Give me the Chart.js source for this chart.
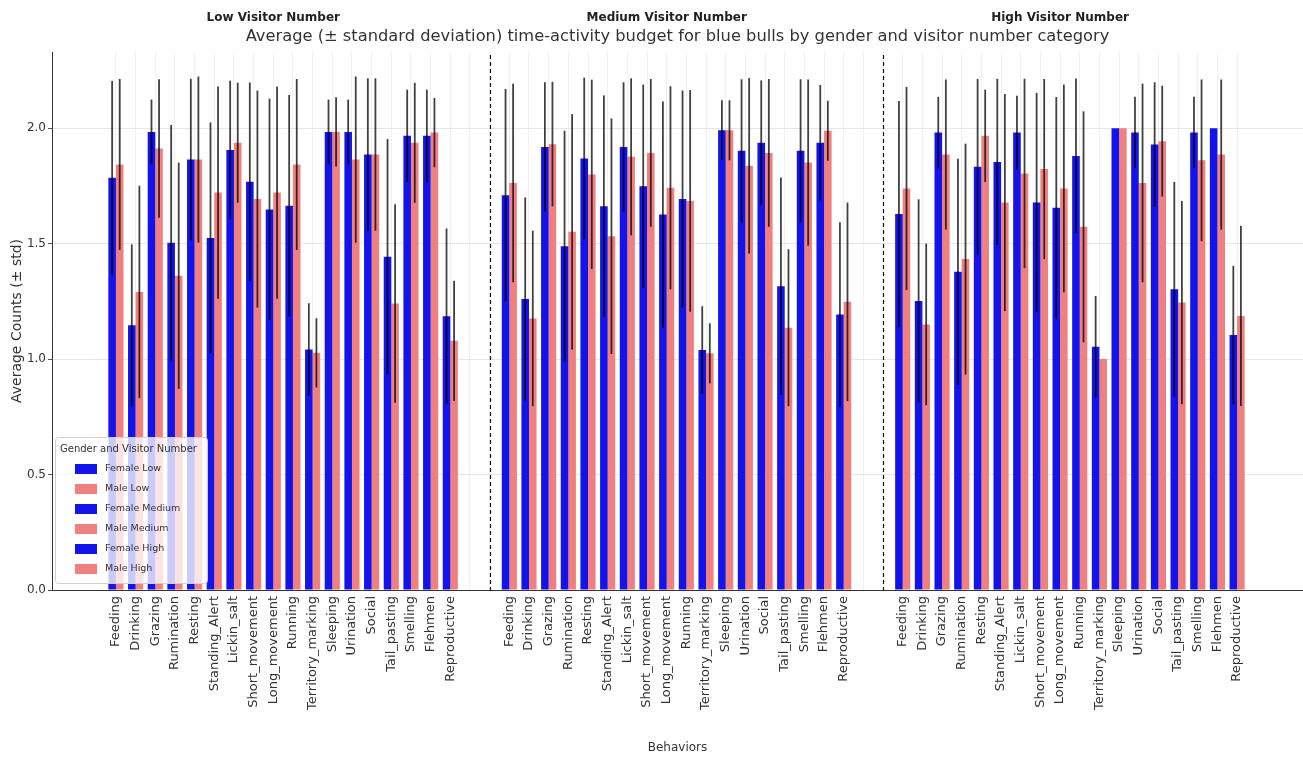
<!DOCTYPE html>
<html>
<head>
<meta charset="utf-8">
<title>Time-activity budget for blue bulls</title>
<script src="https://cdn.jsdelivr.net/npm/chart.js@4.4.1/dist/chart.umd.min.js"></script>
<style>
  html, body { margin: 0; padding: 0; background: #fff; }
  #wrap { width: 1303px; height: 759px; position: relative; }
</style>
</head>
<body>
<div id="wrap"><canvas id="chart"></canvas></div>
<script>
const behaviors = ['Feeding', 'Drinking', 'Grazing', 'Rumination', 'Resting', 'Standing_Alert',
  'Lickin_salt', 'Short_movement', 'Long_movement', 'Running', 'Territory_marking', 'Sleeping',
  'Urination', 'Social', 'Tail_pasting', 'Smelling', 'Flehmen', 'Reproductive'];
const groupTitles = ['Low Visitor Number', 'Medium Visitor Number', 'High Visitor Number'];
const seriesLabels = ['Female Low', 'Male Low', 'Female Medium', 'Male Medium', 'Female High', 'Male High'];
const chartTitle = 'Average (\u00b1 standard deviation) time-activity budget for blue bulls by gender and visitor number category';

// means and standard deviations
const femaleLow    = [1.785, 1.147, 1.984, 1.504, 1.864, 1.525, 1.906, 1.768, 1.648, 1.664, 1.042, 1.984, 1.984, 1.886, 1.443, 1.967, 1.967, 1.186];
const femaleLowSd  = [0.42, 0.35, 0.14, 0.51, 0.35, 0.50, 0.30, 0.43, 0.48, 0.48, 0.20, 0.14, 0.14, 0.33, 0.51, 0.20, 0.20, 0.38];
const maleLow      = [1.843, 1.291, 1.912, 1.361, 1.864, 1.721, 1.937, 1.693, 1.721, 1.843, 1.027, 1.984, 1.864, 1.886, 1.241, 1.937, 1.981, 1.079];
const maleLowSd    = [0.37, 0.46, 0.30, 0.49, 0.36, 0.46, 0.26, 0.47, 0.46, 0.37, 0.15, 0.15, 0.36, 0.33, 0.43, 0.26, 0.15, 0.26];
const femaleMed    = [1.710, 1.260, 1.919, 1.489, 1.869, 1.662, 1.919, 1.749, 1.626, 1.693, 1.039, 1.991, 1.902, 1.937, 1.316, 1.902, 1.937, 1.193];
const femaleMedSd  = [0.46, 0.44, 0.28, 0.50, 0.35, 0.48, 0.28, 0.44, 0.49, 0.47, 0.19, 0.13, 0.31, 0.27, 0.47, 0.31, 0.25, 0.40];
const maleMed      = [1.763, 1.176, 1.931, 1.551, 1.800, 1.532, 1.876, 1.893, 1.742, 1.685, 1.025, 1.991, 1.837, 1.893, 1.136, 1.851, 1.989, 1.248];
const maleMedSd    = [0.43, 0.38, 0.27, 0.51, 0.41, 0.51, 0.34, 0.32, 0.44, 0.48, 0.13, 0.13, 0.38, 0.32, 0.34, 0.36, 0.13, 0.43];
const femaleHigh   = [1.628, 1.252, 1.981, 1.378, 1.833, 1.854, 1.981, 1.678, 1.655, 1.880, 1.053, 2.000, 1.981, 1.929, 1.303, 1.981, 2.000, 1.104];
const femaleHighSd = [0.49, 0.44, 0.155, 0.49, 0.38, 0.36, 0.16, 0.475, 0.48, 0.335, 0.22, 0, 0.155, 0.27, 0.465, 0.155, 0, 0.30];
const maleHigh     = [1.739, 1.150, 1.886, 1.433, 1.967, 1.678, 1.804, 1.823, 1.739, 1.573, 1.000, 2.000, 1.763, 1.944, 1.245, 1.861, 1.886, 1.187];
const maleHighSd   = [0.44, 0.35, 0.325, 0.50, 0.20, 0.47, 0.41, 0.39, 0.45, 0.50, 0, 0, 0.43, 0.24, 0.44, 0.35, 0.325, 0.39];

const yTicks = [0, 0.5, 1.0, 1.5, 2.0];

const FEMALE = '#1414EA';
const MALE = '#F08080';

// each visitor group takes the behaviours plus two empty slots
const slotsPerGroup = behaviors.length + 2;
const slotOf = (g, i) => g * slotsPerGroup + i;
const lastSlot = slotOf(2, behaviors.length - 1);
const dividers = [slotOf(1, -1), slotOf(2, -1)];

function series(label, g, values, sds, female) {
  return {
    label,
    data: values.map((v, i) => ({ x: slotOf(g, i), y: v })),
    errors: sds,
    backgroundColor: female ? FEMALE : MALE,
    stack: female ? 'F' : 'M',
    categoryPercentage: 0.77,
    barPercentage: 1.0
  };
}

const datasets = [
  series(seriesLabels[0], 0, femaleLow, femaleLowSd, true),
  series(seriesLabels[1], 0, maleLow, maleLowSd, false),
  series(seriesLabels[2], 1, femaleMed, femaleMedSd, true),
  series(seriesLabels[3], 1, maleMed, maleMedSd, false),
  series(seriesLabels[4], 2, femaleHigh, femaleHighSd, true),
  series(seriesLabels[5], 2, maleHigh, maleHighSd, false)
];

const errorBars = {
  id: 'errorBars',
  afterDatasetsDraw(chart) {
    const { ctx, chartArea, scales: { y } } = chart;
    ctx.save();
    ctx.beginPath();
    ctx.rect(chartArea.left, chartArea.top, chartArea.width, chartArea.height);
    ctx.clip();
    ctx.strokeStyle = 'rgba(0,0,0,0.75)';
    ctx.lineWidth = 1.8;
    chart.data.datasets.forEach((ds, d) => {
      chart.getDatasetMeta(d).data.forEach((bar, i) => {
        const sd = ds.errors[i];
        if (!sd) return;
        const m = ds.data[i].y;
        ctx.beginPath();
        ctx.moveTo(bar.x, y.getPixelForValue(m - sd));
        ctx.lineTo(bar.x, y.getPixelForValue(m + sd));
        ctx.stroke();
      });
    });
    ctx.restore();
  }
};

const dividerLines = {
  id: 'dividerLines',
  beforeDatasetsDraw(chart) {
    const { ctx, chartArea, scales: { x } } = chart;
    ctx.save();
    ctx.strokeStyle = '#111';
    ctx.lineWidth = 1.2;
    ctx.setLineDash([4, 3]);
    dividers.forEach(pos => {
      const px = Math.round(x.getPixelForValue(pos)) + 0.5;
      ctx.beginPath();
      ctx.moveTo(px, chartArea.top + 3);
      ctx.lineTo(px, chartArea.bottom);
      ctx.stroke();
    });
    ctx.restore();
  }
};

// main title (centred on the plot area) and the three group headers
const headers = {
  id: 'headers',
  afterDraw(chart) {
    const { ctx, chartArea, scales: { x } } = chart;
    ctx.save();
    ctx.textAlign = 'center';
    ctx.textBaseline = 'middle';
    ctx.font = 'bold 12px "DejaVu Sans"';
    ctx.fillStyle = '#222';
    groupTitles.forEach((t, g) => {
      ctx.fillText(t, x.getPixelForValue(slotOf(g, behaviors.length / 2 - 1)), 18);
    });
    ctx.font = '16.3px "DejaVu Sans"';
    ctx.fillStyle = '#333';
    ctx.fillText(chartTitle, (chartArea.left + chartArea.right) / 2, 37);
    ctx.restore();
  }
};

const boxLegend = {
  id: 'boxLegend',
  afterDraw(chart) {
    const { ctx, chartArea } = chart;
    const x0 = chartArea.left + 3, y0 = chartArea.bottom - 153, w = 152, h = 146;
    ctx.save();
    ctx.fillStyle = 'rgba(255,255,255,0.78)';
    ctx.strokeStyle = '#d0d0d0';
    ctx.lineWidth = 1;
    ctx.beginPath();
    ctx.roundRect(x0 + 0.5, y0 + 0.5, w, h, 3);
    ctx.fill();
    ctx.stroke();
    ctx.fillStyle = '#333';
    ctx.textBaseline = 'middle';
    ctx.font = '10px "DejaVu Sans"';
    ctx.fillText('Gender and Visitor Number', x0 + 5, y0 + 12);
    ctx.font = '9.5px "DejaVu Sans"';
    chart.data.datasets.forEach((ds, i) => {
      const cy = y0 + 32 + i * 20;
      ctx.fillStyle = ds.backgroundColor;
      ctx.fillRect(x0 + 20, cy - 5, 22, 10);
      ctx.fillStyle = '#333';
      ctx.fillText(ds.label, x0 + 50, cy);
    });
    ctx.restore();
  }
};

new Chart(document.getElementById('chart'), {
  type: 'bar',
  data: { datasets },
  plugins: [dividerLines, errorBars, headers, boxLegend],
  options: {
    responsive: true,
    maintainAspectRatio: false,
    animation: false,
    layout: { padding: { top: 52, left: 0, right: 0, bottom: 0 } },
    plugins: {
      legend: { display: false },
      tooltip: { enabled: false },
      title: { display: false }
    },
    scales: {
      x: {
        type: 'linear',
        min: -3.25,
        max: 60.35,
        offset: false,
        afterBuildTicks: (scale) => {
          const t = [];
          for (let v = 0; v <= lastSlot; v++) t.push({ value: v });
          scale.ticks = t;
        },
        afterFit: (scale) => { scale.height = 169; },
        ticks: {
          autoSkip: false,
          minRotation: 90,
          maxRotation: 90,
          padding: 6,
          color: '#333',
          font: { family: 'DejaVu Sans', size: 13 },
          callback: (value) => {
            const i = value % slotsPerGroup;
            return i < behaviors.length ? behaviors[i] : '';
          }
        },
        grid: { offset: false, color: '#ececec', lineWidth: 0.8, drawTicks: false },
        border: { display: true, color: '#333', width: 1 },
        title: {
          display: true,
          text: 'Behaviors',
          color: '#333',
          font: { family: 'DejaVu Sans', size: 12 },
          padding: { top: 0, bottom: 4 }
        }
      },
      y: {
        min: 0,
        max: 2.33,
        afterBuildTicks: (scale) => { scale.ticks = yTicks.map(v => ({ value: v })); },
        afterFit: (scale) => { scale.width = 52; },
        ticks: {
          color: '#333',
          padding: 2,
          font: { family: 'DejaVu Sans', size: 12 },
          callback: (v) => v.toFixed(1)
        },
        grid: { color: '#e6e6e6', lineWidth: 1, tickLength: 4, tickColor: '#555' },
        border: { display: true, color: '#333', width: 1 },
        title: {
          display: true,
          text: 'Average Counts (\u00b1 std)',
          color: '#333',
          font: { family: 'DejaVu Sans', size: 14 },
          padding: { top: 9, bottom: 0 }
        }
      }
    }
  }
});
</script>
</body>
</html>
